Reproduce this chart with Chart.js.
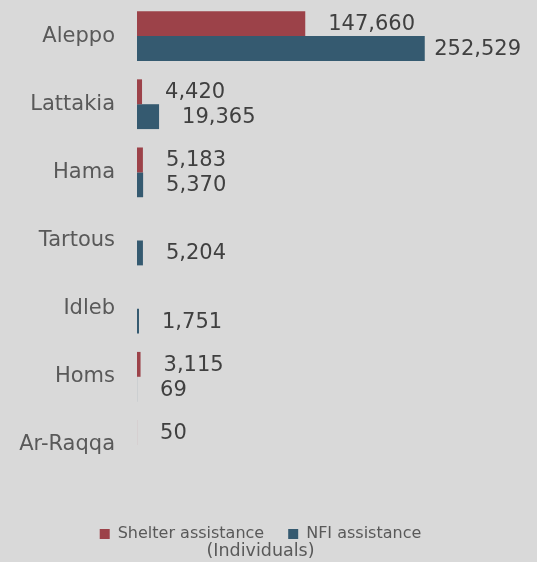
<!DOCTYPE html>
<html>
<head>
<meta charset="utf-8">
<script src="https://cdn.jsdelivr.net/npm/chart.js@4/dist/chart.umd.min.js"></script>
<style>
  html, body { margin: 0; padding: 0; background: #d9d9d9; }
  #wrap { width: 537px; height: 562px; }
</style>
</head>
<body>
<div id="wrap"><canvas id="c"></canvas></div>
<script>
const categories = ['Aleppo', 'Lattakia', 'Hama', 'Tartous', 'Idleb', 'Homs', 'Ar-Raqqa'];
const shelterValues = [147660, 4420, 5183, null, null, 3115, 50];
const nfiValues = [252529, 19365, 5370, 5204, 1751, 69, null];
const seriesNames = ['Shelter assistance', 'NFI assistance'];
const axisTitle = '(Individuals)';

const FONT = "'DejaVu Sans', Verdana, sans-serif";

const valueLabels = {
  id: 'valueLabels',
  afterDatasetsDraw(chart) {
    const ctx = chart.ctx;
    ctx.save();
    ctx.font = '21px ' + FONT;
    ctx.fillStyle = '#404040';
    ctx.textBaseline = 'middle';
    ctx.textAlign = 'left';
    chart.data.datasets.forEach((ds, di) => {
      const meta = chart.getDatasetMeta(di);
      meta.data.forEach((el, i) => {
        const v = ds.data[i];
        if (v === null || v === undefined) return;
        const txt = v.toLocaleString('en-US');
        const w = ctx.measureText(txt).width;
        let x = el.x + 23;
        const maxX = chart.width - 16 - w;
        if (x > maxX) x = Math.max(el.x + 7, maxX);
        ctx.fillText(txt, x, el.y + 1);
      });
    });
    ctx.restore();
  }
};

new Chart(document.getElementById('c'), {
  type: 'bar',
  data: {
    labels: categories,
    datasets: [
      { label: seriesNames[0], data: shelterValues, backgroundColor: '#9c4249', borderWidth: 0,
        barPercentage: 1, categoryPercentage: 0.73 },
      { label: seriesNames[1], data: nfiValues, backgroundColor: '#355a70', borderWidth: 0,
        barPercentage: 1, categoryPercentage: 0.73 }
    ]
  },
  options: {
    indexAxis: 'y',
    responsive: true,
    maintainAspectRatio: false,
    animation: false,
    layout: { padding: { top: 2, right: 16, bottom: 0, left: 0 } },
    scales: {
      x: {
        display: true, min: 0, max: 337000,
        grid: { display: false, drawTicks: false },
        border: { display: false },
        ticks: { display: false },
        afterFit(scale) { scale.height = 23; }
      },
      y: {
        grid: { display: false, drawTicks: false },
        border: { display: false },
        ticks: { color: '#595959', font: { family: FONT, size: 21 }, padding: 22 },
        afterFit(scale) { scale.width = 137; scale.paddingTop = 0; scale.paddingBottom = 0; }
      }
    },
    plugins: {
      legend: {
        position: 'bottom',
        labels: {
          color: '#595959',
          font: { family: FONT, size: 16 },
          boxWidth: 10, boxHeight: 10,
          padding: 24
        }
      },
      title: {
        display: true,
        position: 'bottom',
        text: axisTitle,
        color: '#595959',
        font: { family: FONT, size: 17.5, weight: 'normal', lineHeight: 1.2 },
        padding: { top: -11, bottom: 0 }
      },
      tooltip: { enabled: false }
    }
  },
  plugins: [valueLabels]
});
</script>
</body>
</html>
